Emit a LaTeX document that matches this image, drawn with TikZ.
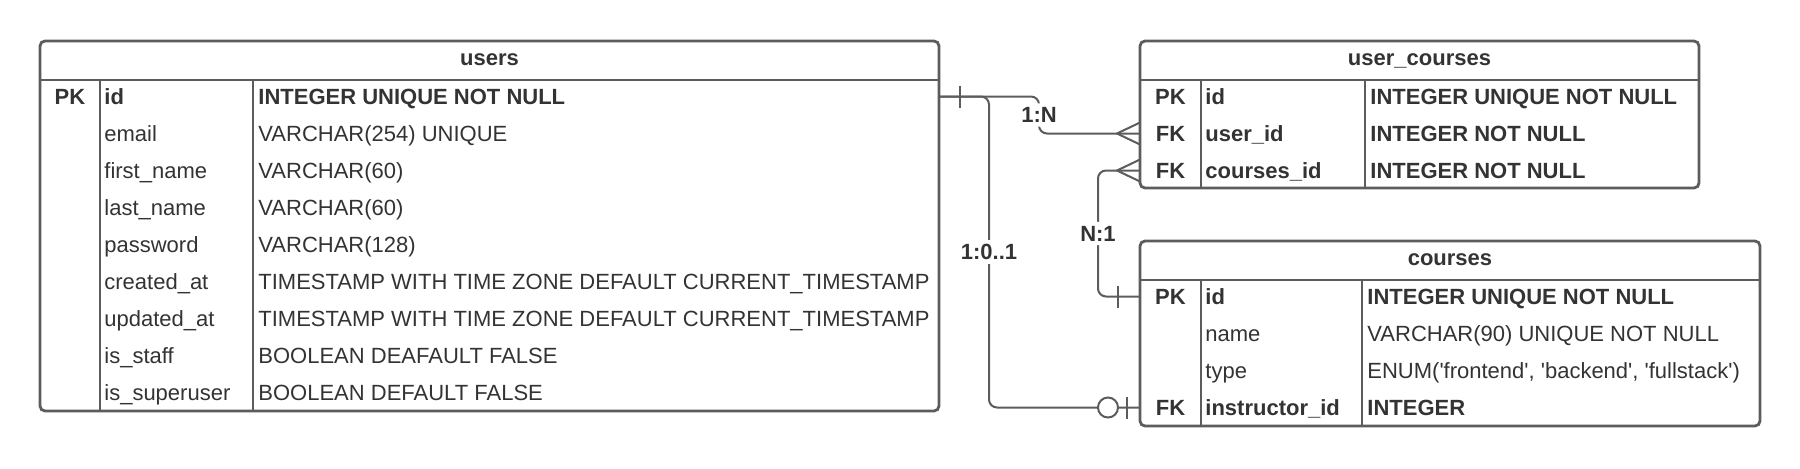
\documentclass[tikz,border=0pt]{standalone}
\usepackage{fontspec}
\setmainfont{Liberation Sans}
\usepackage{tikz}
\usetikzlibrary{calc}
\definecolor{erline}{HTML}{5C5C5C}
\definecolor{ertext}{HTML}{333333}

\begin{document}
\begin{tikzpicture}[x=0.5pt, y=-0.5pt,
    tbl/.style={draw=erline, line width=1.4pt, rounded corners=2.5pt},
    sep/.style={draw=erline, line width=1.4pt},
    cell/.style={anchor=west, inner sep=0pt, text height=7.9pt, text depth=0pt, text=ertext, font=\fontsize{11}{13}\selectfont},
    bcell/.style={cell, font=\fontsize{11}{13}\selectfont\bfseries},
    key/.style={bcell, anchor=center},
    title/.style={key},
    rel/.style={draw=erline, line width=1pt, rounded corners=4pt},
    mark line/.style={draw=erline, line width=1pt},
    card/.style={fill=white, inner sep=2pt, text=ertext, font=\fontsize{11}{13}\selectfont\bfseries}]

    \useasboundingbox (0,0) rectangle (1800,468);

    % users
    \draw[tbl] (40,41) rectangle (939,411);
    \draw[sep] (40,80) -- (939,80);
    \draw[sep] (100,80) -- (100,411);
    \draw[sep] (253,80) -- (253,411);
    \node[title] (users) at (489.5,58) {users};
    \node[key] (users-pk) at (70,96.5) {PK};
    \node[bcell] (users-id) at (104,96.5) {id};
    \node[bcell] (users-id-t) at (258,96.5) {INTEGER UNIQUE NOT NULL};
    \foreach \n/\t [count=\i, evaluate=\i as \y using 96.5+37*\i] in
        {email/VARCHAR(254) UNIQUE, first\_name/VARCHAR(60), last\_name/VARCHAR(60),
         password/VARCHAR(128),
         created\_at/TIMESTAMP WITH TIME ZONE DEFAULT CURRENT\_TIMESTAMP,
         updated\_at/TIMESTAMP WITH TIME ZONE DEFAULT CURRENT\_TIMESTAMP,
         is\_staff/BOOLEAN DEAFAULT FALSE, is\_superuser/BOOLEAN DEFAULT FALSE}{
        \node[cell] (users-\i) at (104,\y) {\n};
        \node[cell] (users-\i-t) at (258,\y) {\t};
    }

    % user_courses
    \draw[tbl] (1140,41) rectangle (1699,188);
    \draw[sep] (1140,80) -- (1699,80);
    \draw[sep] (1201,80) -- (1201,188);
    \draw[sep] (1365,80) -- (1365,188);
    \node[title] (uc) at (1419.5,58) {user\_courses};
    \node[key] (uc-pk) at (1170.5,96.5) {PK};
    \node[bcell] (uc-id) at (1205,96.5) {id};
    \node[bcell] (uc-id-t) at (1370,96.5) {INTEGER UNIQUE NOT NULL};
    \node[key] (uc-fk1) at (1170.5,133.5) {FK};
    \node[bcell] (uc-user) at (1205,133.5) {user\_id};
    \node[bcell] (uc-user-t) at (1370,133.5) {INTEGER NOT NULL};
    \node[key] (uc-fk2) at (1170.5,170.5) {FK};
    \node[bcell] (uc-course) at (1205,170.5) {courses\_id};
    \node[bcell] (uc-course-t) at (1370,170.5) {INTEGER NOT NULL};

    % courses
    \draw[tbl] (1140,241) rectangle (1760,426);
    \draw[sep] (1140,280) -- (1760,280);
    \draw[sep] (1201,280) -- (1201,426);
    \draw[sep] (1362,280) -- (1362,426);
    \node[title] (courses) at (1450,258) {courses};
    \node[key] (courses-pk) at (1170.5,296.5) {PK};
    \node[bcell] (courses-id) at (1205,296.5) {id};
    \node[bcell] (courses-id-t) at (1367,296.5) {INTEGER UNIQUE NOT NULL};
    \node[cell] (courses-name) at (1205,333.5) {name};
    \node[cell] (courses-name-t) at (1367,333.5) {VARCHAR(90) UNIQUE NOT NULL};
    \node[cell] (courses-type) at (1205,370.5) {type};
    \node[cell] (courses-type-t) at (1367,370.5) {ENUM(\textquotesingle frontend\textquotesingle, \textquotesingle backend\textquotesingle, \textquotesingle fullstack\textquotesingle)};
    \node[key] (courses-fk) at (1170.5,407.5) {FK};
    \node[bcell] (courses-instr) at (1205,407.5) {instructor\_id};
    \node[bcell] (courses-instr-t) at (1367,407.5) {INTEGER};

    % connector ends on the table edges
    \coordinate (users-id-e) at (939,96.5);
    \coordinate (uc-user-w) at (1140,133.5);
    \coordinate (uc-course-w) at (1140,170.5);
    \coordinate (courses-id-w) at (1140,296.5);
    \coordinate (courses-instr-w) at (1140,407.5);

    % relations
    \draw[rel] (users-id-e) -- ++(50,0) |- node[card, pos=0.25] {1:0..1} (courses-instr-w);
    \draw[rel] (users-id-e) -- ++(100,0) |- node[card, pos=0.25] {1:N} (uc-user-w);
    \draw[rel] (uc-course-w) -- ++(-42,0) |- node[card, pos=0.25] {N:1} (courses-id-w);

    % one
    \draw[mark line] ($(users-id-e)+(21,-11)$) -- ($(users-id-e)+(21,11)$);
    \draw[mark line] ($(courses-id-w)+(-22,-11)$) -- ($(courses-id-w)+(-22,11)$);
    % many
    \draw[mark line] ($(uc-user-w)+(0,-11)$) -- ($(uc-user-w)+(-23,0)$) -- ($(uc-user-w)+(0,11)$);
    \draw[mark line] ($(uc-course-w)+(0,-11)$) -- ($(uc-course-w)+(-23,0)$) -- ($(uc-course-w)+(0,11)$);
    % zero or one
    \draw[mark line] ($(courses-instr-w)+(-13,-11)$) -- ($(courses-instr-w)+(-13,11)$);
    \draw[mark line, fill=white] ($(courses-instr-w)+(-32,0)$) circle[radius=10];
\end{tikzpicture}
\end{document}
